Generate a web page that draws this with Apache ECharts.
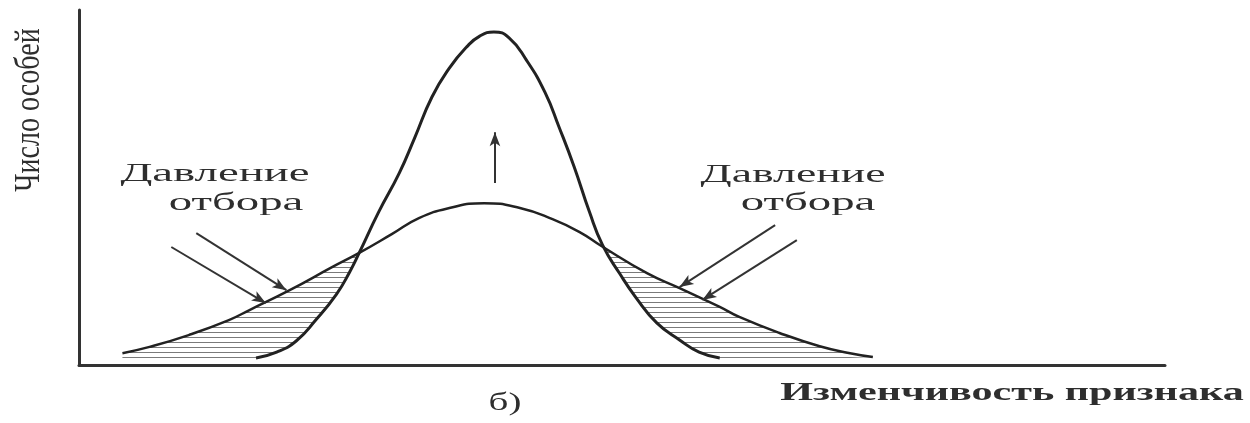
<!DOCTYPE html>
<html>
<head>
<meta charset="utf-8">
<title>Стабилизирующий отбор</title>
<script src="https://cdn.jsdelivr.net/npm/echarts@6/dist/echarts.min.js"></script>
<style>
  html, body { margin: 0; padding: 0; background: #fff; }
  #chart { width: 1250px; height: 423px; }
</style>
</head>
<body>
<div id="chart"></div>
<script>
// Распределение признака до отбора (широкая кривая): [признак, число особей]
const wideCurve = [
  [4.0, 1.4], [6.5, 3.2], [10.1, 6.6], [13.8, 10.9], [15.7, 13.8], [19.4, 19.5],
  [23.3, 26.1], [25.8, 30.2], [28.8, 35.6], [31.3, 40.2], [34.1, 43.1], [37.3, 44.5],
  [40.6, 43.1], [43.6, 39.9], [46.1, 36.2], [48.1, 32.2], [52.3, 24.4], [55.3, 20.1],
  [59.0, 14.7], [60.8, 11.8], [64.5, 7.2], [68.2, 3.4], [71.0, 1.4], [73.1, 0.3]
];

// Распределение после стабилизирующего отбора (узкая кривая)
const narrowCurve = [
  [16.3, 0], [18.2, 1.7], [20.0, 4.9], [21.8, 10.9], [23.7, 18.3], [24.9, 24.6],
  [25.8, 30.2], [27.6, 42.0], [29.5, 53.2], [30.9, 63.2], [32.5, 75.0], [34.1, 83.3],
  [35.7, 89.4], [36.9, 92.5], [38.2, 93.7], [39.6, 92.0], [41.2, 85.6], [42.9, 76.4],
  [44.2, 66.4], [45.6, 54.9], [47.0, 42.0], [48.2, 32.5], [49.8, 24.2], [51.3, 17.3],
  [53.2, 10.1], [55.3, 5.2], [57.1, 1.7], [59.0, 0]
];

// Стрелки «давление отбора»: [начало, конец]
const pressureArrows = [
  [[10.8, 35.9], [19.1, 19.5]],
  [[8.5, 31.9], [17.2, 15.8]],
  [[64.1, 38.2], [55.3, 20.4]],
  [[66.1, 33.9], [57.4, 16.7]]
];

// Стрелка роста численности средних форм
const shiftArrow = [[38.3, 50.3], [38.3, 64.9]];

// Подписи
const axisNameY = 'Число особей';
const axisNameX = 'Изменчивость признака';
const pressureLines = ['Давление', 'отбора'];
const panelLabel = 'б)';

// Горизонтальная штриховка для областей, удаляемых отбором
function hatchPattern() {
  const c = document.createElement('canvas');
  c.width = 8; c.height = 5;
  const ctx = c.getContext('2d');
  ctx.strokeStyle = '#7a7a7a';
  ctx.lineWidth = 1;
  ctx.beginPath();
  ctx.moveTo(0, 2.5);
  ctx.lineTo(8, 2.5);
  ctx.stroke();
  return { image: c, repeat: 'repeat' };
}

const ink = '#222';
const serif = '"Liberation Serif", "DejaVu Serif", serif';
const smoothness = 0.5;

function stretchedText(text, x, y, size, sx, opts) {
  opts = opts || {};
  return {
    type: 'text',
    x: x, y: y,
    rotation: opts.rotation || 0,
    scaleX: sx,
    z: 10,
    style: {
      text: text,
      font: (opts.weight || 'normal') + ' ' + size + 'px ' + serif,
      fill: opts.fill || '#2e2e2e',
      textAlign: 'center',
      textVerticalAlign: 'middle'
    }
  };
}

const chart = echarts.init(document.getElementById('chart'), null, { renderer: 'canvas' });

const arrowLines = pressureArrows.concat([shiftArrow]).map(function (a) {
  return [{ coord: a[0] }, { coord: a[1] }];
});

function curveSeries(name, data, z, extra) {
  return Object.assign({
    name: name,
    type: 'line',
    data: data,
    smooth: smoothness,
    symbol: 'none',
    z: z
  }, extra);
}

chart.setOption({
  backgroundColor: '#fff',
  animation: false,
  grid: { left: 79, right: 85, top: 10, bottom: 58 },
  xAxis: {
    type: 'value', min: 0, max: 100,
    axisLine: { show: true, onZero: false, lineStyle: { color: '#333', width: 3 } },
    axisTick: { show: false }, axisLabel: { show: false }, splitLine: { show: false }
  },
  yAxis: {
    type: 'value', min: -2, max: 100,
    axisLine: { show: true, onZero: false, lineStyle: { color: '#333', width: 3 } },
    axisTick: { show: false }, axisLabel: { show: false }, splitLine: { show: false }
  },
  series: [
    curveSeries('hatch', wideCurve, 1, {
      lineStyle: { width: 0 },
      areaStyle: { color: hatchPattern(), opacity: 1 }
    }),
    curveSeries('mask', narrowCurve, 2, {
      lineStyle: { width: 0 },
      areaStyle: { color: '#fff', opacity: 1 }
    }),
    curveSeries('до отбора', wideCurve, 3, {
      lineStyle: { color: ink, width: 2.5 }
    }),
    curveSeries('после отбора', narrowCurve, 3, {
      lineStyle: { color: ink, width: 3 },
      markLine: {
        silent: true,
        symbol: ['none', 'arrow'],
        symbolSize: [8, 14],
        label: { show: false },
        lineStyle: { color: '#333', width: 2, type: 'solid' },
        emphasis: { disabled: true },
        data: arrowLines
      }
    })
  ],
  graphic: [
    stretchedText(axisNameY, 30, 110, 36, 0.78, { rotation: Math.PI / 2 }),
    stretchedText(pressureLines[0], 215, 174, 26, 1.8),
    stretchedText(pressureLines[1], 236, 203, 26, 1.8),
    stretchedText(pressureLines[0], 793, 175, 26, 1.76),
    stretchedText(pressureLines[1], 808, 203, 26, 1.8),
    stretchedText(axisNameX, 1012, 393, 26, 1.62, { weight: 'bold' }),
    stretchedText(panelLabel, 505, 403, 26, 1.5)
  ]
});
</script>
</body>
</html>
